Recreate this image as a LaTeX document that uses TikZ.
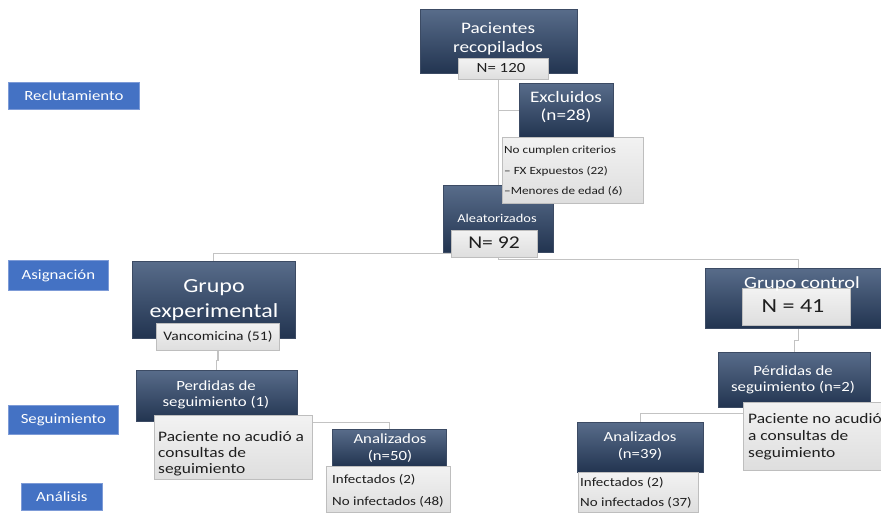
\documentclass[tikz,border=0pt]{standalone}
\usepackage{fontspec}
\setmainfont[FakeStretch=1.2]{Carlito}
\usetikzlibrary{backgrounds}
\definecolor{lblblue}{RGB}{68,114,196}
\definecolor{lblborder}{RGB}{125,155,215}
\definecolor{navytop}{RGB}{88,108,138}
\definecolor{navybot}{RGB}{34,52,80}
\definecolor{navyedge}{RGB}{60,75,100}
\definecolor{graytop}{RGB}{242,242,242}
\definecolor{graybot}{RGB}{222,222,222}
\definecolor{grayedge}{RGB}{190,190,190}
\definecolor{linegray}{RGB}{195,195,195}
\definecolor{darktext}{RGB}{30,30,30}
\newcommand{\fs}[2]{\fontsize{#1}{#2}\selectfont}
\tikzset{
  lbl/.style={draw=lblborder, fill=lblblue, text=white, inner sep=0pt, anchor=north west, line width=0.8pt, font=\fs{14}{16}},
  navy/.style={draw=navyedge, top color=navytop, bottom color=navybot, anchor=north west, inner sep=0pt, line width=0.6pt},
  graybox/.style={draw=grayedge, top color=graytop, bottom color=graybot, anchor=north west, inner sep=0pt, line width=0.8pt},
  wtxt/.style={text=white, inner sep=0pt, align=center},
  gtxt/.style={text=darktext, inner sep=0pt, align=center},
  ltxt/.style={text=darktext, inner sep=0pt, align=left, anchor=west},
  conn/.style={draw=linegray, line width=1.3pt}
}
\begin{document}
\begin{tikzpicture}[x=1pt, y=-1pt]
\useasboundingbox (0,0) rectangle (881,513);
% stage labels
\node[lbl, minimum width=131, minimum height=27] (rec) at (8,82) {Reclutamiento};
\node[lbl, minimum width=100, minimum height=30] (asig) at (8,260) {Asignación};
\node[lbl, minimum width=110, minimum height=29] (seg) at (8,405) {Seguimiento};
\node[lbl, minimum width=81, minimum height=27] (anal) at (21,483) {Análisis};
% top
\node[navy, minimum width=157, minimum height=64] (pac) at (420,9) {};
\node[wtxt, font=\fs{16}{19}] (pact) at (498,39) {Pacientes\\recopilados};
\node[graybox, minimum width=90, minimum height=21] (pacN) at (458,58) {};
\node[gtxt, font=\fs{14}{16}] (pacNt) at (501,68) {N= 120};
\node[navy, minimum width=94, minimum height=54] (exc) at (519,83) {};
\node[wtxt, font=\fs{16}{18}] (exct) at (566,107) {Excluidos\\(n=28)};
\node[navy, minimum width=110, minimum height=67] (ale) at (443,185) {};
\node[graybox, minimum width=141, minimum height=66] (excg) at (502,137) {};
\node[ltxt, font=\fs{11}{20.5}] (excgt) at (504,171) {No cumplen criterios\\– FX Expuestos (22)\\–Menores de edad (6)};
\node[wtxt, font=\fs{12}{14}] (alet) at (497,218) {Aleatorizados};
\node[graybox, minimum width=86, minimum height=27] (aleN) at (451,230) {};
\node[gtxt, font=\fs{18}{20}] (aleNt) at (494,243) {N= 92};
% experimental branch
\node[navy, minimum width=163, minimum height=77] (gexp) at (132,261) {};
\node[wtxt, font=\fs{20}{25}] (gexpt) at (214,300) {Grupo\\experimental};
\node[graybox, minimum width=123, minimum height=27] (vanc) at (156,323) {};
\node[gtxt, font=\fs{13}{15}] (vanct) at (218,337) {Vancomicina (51)};
\node[navy, minimum width=161, minimum height=51] (per1) at (136,370) {};
\node[wtxt, font=\fs{14}{16}] (per1t) at (216,395) {Perdidas de\\seguimiento (1)};
\node[graybox, minimum width=158, minimum height=64] (pac1) at (154,415) {};
\node[ltxt, font=\fs{14.5}{16}] (pac1t) at (158,454) {Paciente no acudió a\\consultas de\\seguimiento};
\node[navy, minimum width=114, minimum height=37] (an50) at (332,429) {};
\node[wtxt, font=\fs{14}{17}] (an50t) at (390,448) {Analizados\\(n=50)};
\node[graybox, minimum width=124, minimum height=46] (an50g) at (326,466) {};
\node[ltxt, font=\fs{12.5}{22}] (an50gt) at (332,491) {Infectados (2)\\No infectados (48)};
% control branch
\node[navy, minimum width=176, minimum height=60] (gctl) at (705,268) {};
\node[graybox, minimum width=108, minimum height=37] (gctlN) at (742,288) {};
\node[wtxt, font=\fs{17}{19}] (gctlt) at (802,284) {Grupo control};
\node[gtxt, font=\fs{20}{22}] (gctlNt) at (793,306) {N = 41};
\node[navy, minimum width=152, minimum height=55] (per2) at (718,352) {};
\node[wtxt, font=\fs{14}{16}] (per2t) at (793,380) {Pérdidas de\\seguimiento (n=2)};
\node[graybox, minimum width=150, minimum height=68] (pac2) at (743,402) {};
\node[ltxt, font=\fs{14.5}{17}] (pac2t) at (748,437) {Paciente no acudió\\a consultas de\\seguimiento};
\node[navy, minimum width=126, minimum height=50] (an39) at (577,422) {};
\node[wtxt, font=\fs{14}{17}] (an39t) at (640,446) {Analizados\\(n=39)};
\node[graybox, minimum width=120, minimum height=40] (an39g) at (578,472) {};
\node[ltxt, font=\fs{12.5}{20}] (an39gt) at (580,493) {Infectados (2)\\No infectados (37)};
% connectors
\begin{scope}[on background layer]
\draw[conn] (ale.north) -- (ale.north |- pacN.south);
\draw[conn] (ale.north |- exc.west) -- (exc.west);
\draw[conn] (ale.south) -- ++(0,1) -| (gexp.north);
\draw[conn] (ale.south) -- ++(0,7) -| ([xshift=5pt]gctl.north);
\draw[conn] (vanc.south) -- ++(0,10) -| (per1.north);
\draw[conn] ([xshift=5pt]gctl.south) -- ++(0,12) -| (per2.north);
\draw[conn] (per1.south) -- ++(0,1) -| (an50.north);
\draw[conn] (per2.south) -- ++(0,6) -| (an39.north);
\end{scope}
\end{tikzpicture}
\end{document}
